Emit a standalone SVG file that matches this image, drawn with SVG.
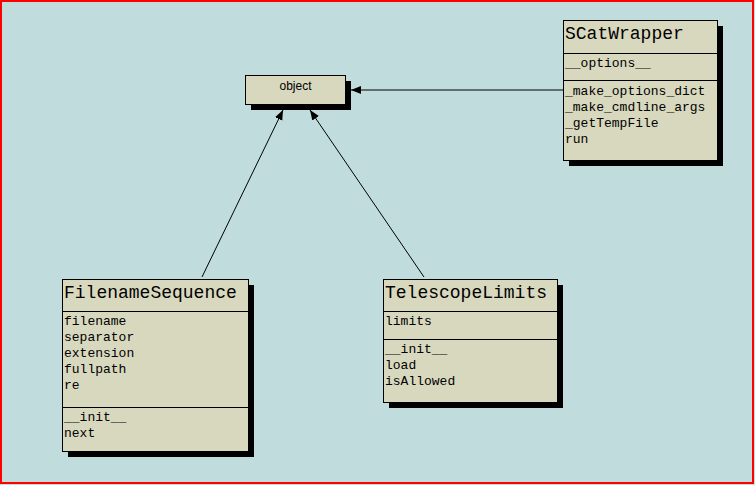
<svg xmlns="http://www.w3.org/2000/svg" width="755" height="485" viewBox="0 0 755 485">
<defs>
<style>
.bg{fill:#C0DCDC}
.box{fill:#D8D8BF;stroke:#000;stroke-width:1}
.sh{fill:#000}
.div{stroke:#000;stroke-width:1}
.title{font-family:"Liberation Mono",monospace;font-size:18px;fill:#000}
.mem{font-family:"Liberation Mono",monospace;font-size:13px;fill:#000}
.obj{font-family:"Liberation Sans",Arial,sans-serif;font-size:12px;fill:#000;text-anchor:middle}
.edge{stroke:#000;stroke-width:1;fill:none;marker-end:url(#arr)}
</style>
<marker id="arr" markerUnits="userSpaceOnUse" markerWidth="12" markerHeight="10" refX="10" refY="4" orient="auto">
<path d="M0,0 L10,4 L0,8 Z" fill="#000"/>
</marker>
</defs>
<rect class="bg" x="0" y="0" width="755" height="485"/>
<rect x="1" y="1" width="752" height="482" fill="none" stroke="#FF0000" stroke-width="2"/>

<g id="connectors">
<line class="edge" x1="563" y1="90" x2="351" y2="90"/>
<line class="edge" x1="202" y1="277" x2="283" y2="110"/>
<line class="edge" x1="424" y1="277" x2="310" y2="110"/>
</g>

<g id="object">
<rect class="sh" x="251" y="81" width="100" height="29"/>
<rect class="box" x="245.5" y="75.5" width="100" height="29"/>
<text class="obj" x="295.5" y="90">object</text>
</g>

<g id="SCatWrapper">
<rect class="sh" x="569" y="26" width="154" height="140"/>
<rect class="box" x="563.5" y="20.5" width="154" height="140"/>
<line class="div" x1="563.5" y1="53.5" x2="717.5" y2="53.5"/>
<line class="div" x1="563.5" y1="80.5" x2="717.5" y2="80.5"/>
<text class="title" x="565" y="39">SCatWrapper</text>
<text class="mem" x="565" y="67">__options__</text>
<text class="mem" x="565" y="95">_make_options_dict</text>
<text class="mem" x="565" y="111">_make_cmdline_args</text>
<text class="mem" x="565" y="127">_getTempFile</text>
<text class="mem" x="565" y="143">run</text>
</g>

<g id="FilenameSequence">
<rect class="sh" x="68" y="285" width="186" height="172"/>
<rect class="box" x="62.5" y="279.5" width="186" height="172"/>
<line class="div" x1="62.5" y1="311.5" x2="248.5" y2="311.5"/>
<line class="div" x1="62.5" y1="407.5" x2="248.5" y2="407.5"/>
<text class="title" x="64" y="298">FilenameSequence</text>
<text class="mem" x="64" y="325">filename</text>
<text class="mem" x="64" y="341">separator</text>
<text class="mem" x="64" y="357">extension</text>
<text class="mem" x="64" y="373">fullpath</text>
<text class="mem" x="64" y="389">re</text>
<text class="mem" x="64" y="421">__init__</text>
<text class="mem" x="64" y="437">next</text>
</g>

<g id="TelescopeLimits">
<rect class="sh" x="389" y="285" width="174" height="123"/>
<rect class="box" x="383.5" y="279.5" width="174" height="123"/>
<line class="div" x1="383.5" y1="311.5" x2="557.5" y2="311.5"/>
<line class="div" x1="383.5" y1="339.5" x2="557.5" y2="339.5"/>
<text class="title" x="385" y="298">TelescopeLimits</text>
<text class="mem" x="385" y="325">limits</text>
<text class="mem" x="385" y="353">__init__</text>
<text class="mem" x="385" y="369">load</text>
<text class="mem" x="385" y="385">isAllowed</text>
</g>
</svg>
